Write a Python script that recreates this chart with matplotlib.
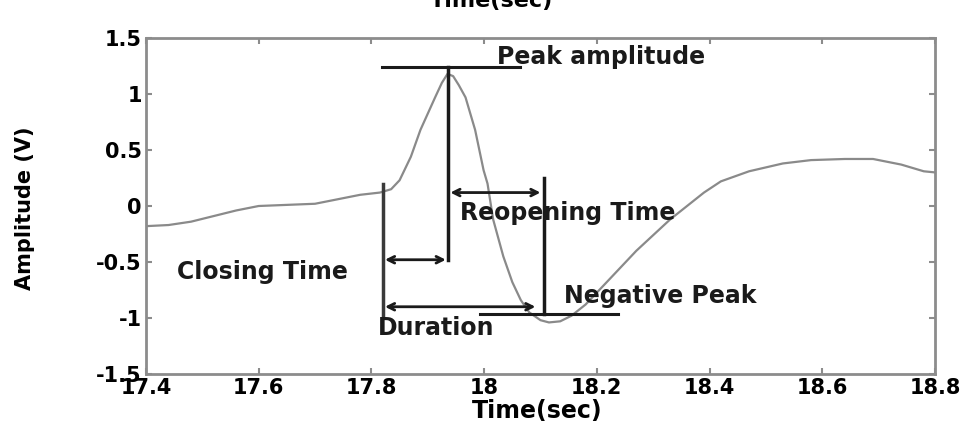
#!/usr/bin/env python3

# plot.py - annotated pulse waveform (amplitude vs time)

import matplotlib
matplotlib.use("Agg")
import matplotlib.pyplot as plt

# Waveform samples
time_s = [17.40, 17.44, 17.48, 17.52, 17.56, 17.60, 17.65, 17.70, 17.74, 17.78,
          17.815, 17.835, 17.85, 17.87, 17.887, 17.913, 17.925, 17.935, 17.945,
          17.955, 17.967, 17.984, 17.999, 18.006, 18.016, 18.034, 18.05, 18.065,
          18.08, 18.10, 18.115, 18.135, 18.155, 18.18, 18.21, 18.24, 18.27,
          18.30, 18.33, 18.36, 18.39, 18.42, 18.47, 18.53, 18.58, 18.64, 18.69,
          18.74, 18.78, 18.80]
amplitude = [-0.18, -0.17, -0.14, -0.09, -0.04, 0.00, 0.01, 0.02, 0.06, 0.10,
             0.12, 0.15, 0.23, 0.44, 0.68, 0.97, 1.10, 1.18, 1.16,
             1.08, 0.97, 0.68, 0.32, 0.20, -0.12, -0.45, -0.68, -0.84,
             -0.95, -1.02, -1.04, -1.03, -0.98, -0.88, -0.72, -0.56, -0.40,
             -0.26, -0.12, 0.00, 0.12, 0.22, 0.31, 0.38, 0.41, 0.42, 0.42,
             0.37, 0.31, 0.30]

# Annotation markers
t_close_start = 17.82
t_peak = 17.936
t_reopen_end = 18.107
peak_level = 1.24
neg_peak_level = -0.965

x_ticks = [17.4, 17.6, 17.8, 18.0, 18.2, 18.4, 18.6, 18.8]
x_tick_labels = ["17.4", "17.6", "17.8", "18", "18.2", "18.4", "18.6", "18.8"]
y_ticks = [-1.5, -1, -0.5, 0, 0.5, 1, 1.5]
y_tick_labels = ["-1.5", "-1", "-0.5", "0", "0.5", "1", "1.5"]

INK = "#1a1a1a"
SPINE = "#8c8c8c"
FONT = "DejaVu Sans"

fig = plt.figure(figsize=(9.73, 4.23), dpi=100, facecolor="white")
ax = fig.add_axes([0.150, 0.116, 0.811, 0.794])

ax.plot(time_s, amplitude, color="#8a8a8a", linewidth=1.6)

# vertical markers
ax.plot([t_close_start, t_close_start], [0.20, -0.99], color="#3a3a3a", linewidth=2.5)
ax.plot([t_peak, t_peak], [peak_level, -0.48], color=INK, linewidth=2.5)
ax.plot([t_reopen_end, t_reopen_end], [0.25, neg_peak_level], color=INK, linewidth=2.5)

# horizontal level lines
ax.plot([17.819, 18.064], [peak_level, peak_level], color=INK, linewidth=2.2)
ax.plot([17.993, 18.238], [neg_peak_level, neg_peak_level], color=INK, linewidth=2.2)

arrow = dict(arrowstyle="<->", color=INK, linewidth=2.0, shrinkA=0, shrinkB=0,
             mutation_scale=12)
ax.annotate("", xy=(t_close_start + 0.004, -0.48), xytext=(t_peak - 0.004, -0.48),
            arrowprops=arrow)
ax.annotate("", xy=(t_peak + 0.004, 0.12), xytext=(t_reopen_end - 0.007, 0.12),
            arrowprops=arrow)
ax.annotate("", xy=(t_close_start + 0.004, -0.90), xytext=(t_reopen_end - 0.016, -0.90),
            arrowprops=arrow)

label_kw = dict(fontsize=17, fontweight="bold", family=FONT, color=INK)
ax.text(18.023, 1.33, "Peak amplitude", ha="left", va="center", **label_kw)
ax.text(17.958, -0.06, "Reopening Time", ha="left", va="center", **label_kw)
ax.text(17.455, -0.59, "Closing Time", ha="left", va="center", **label_kw)
ax.text(17.812, -1.09, "Duration", ha="left", va="center", **label_kw)
ax.text(18.141, -0.80, "Negative Peak", ha="left", va="center", **label_kw)

ax.set_xlim(17.4, 18.8)
ax.set_ylim(-1.5, 1.5)
ax.set_xticks(x_ticks)
ax.set_xticklabels(x_tick_labels)
ax.set_yticks(y_ticks)
ax.set_yticklabels(y_tick_labels)
ax.tick_params(direction="in", length=4, width=1.5, color=SPINE,
               top=True, right=True, labelsize=15, pad=3)
for lbl in ax.get_xticklabels() + ax.get_yticklabels():
    lbl.set_fontweight("bold")
    lbl.set_family(FONT)
for spine in ax.spines.values():
    spine.set_color(SPINE)
    spine.set_linewidth(2)

ax.set_xlabel("Time(sec)", fontsize=17, fontweight="bold", family=FONT)
ax.set_ylabel("Amplitude (V)", fontsize=15, fontweight="bold", family=FONT)
ax.xaxis.set_label_coords(0.496, -0.075)
ax.yaxis.set_label_coords(-0.141, 0.494)

# clipped label of the panel above, only its lower edge shows
fig.text(0.505, 0.984, "Time(sec)", ha="center", va="baseline",
         fontsize=16, fontweight="bold", family=FONT)

fig.savefig("out.png", dpi=100)
